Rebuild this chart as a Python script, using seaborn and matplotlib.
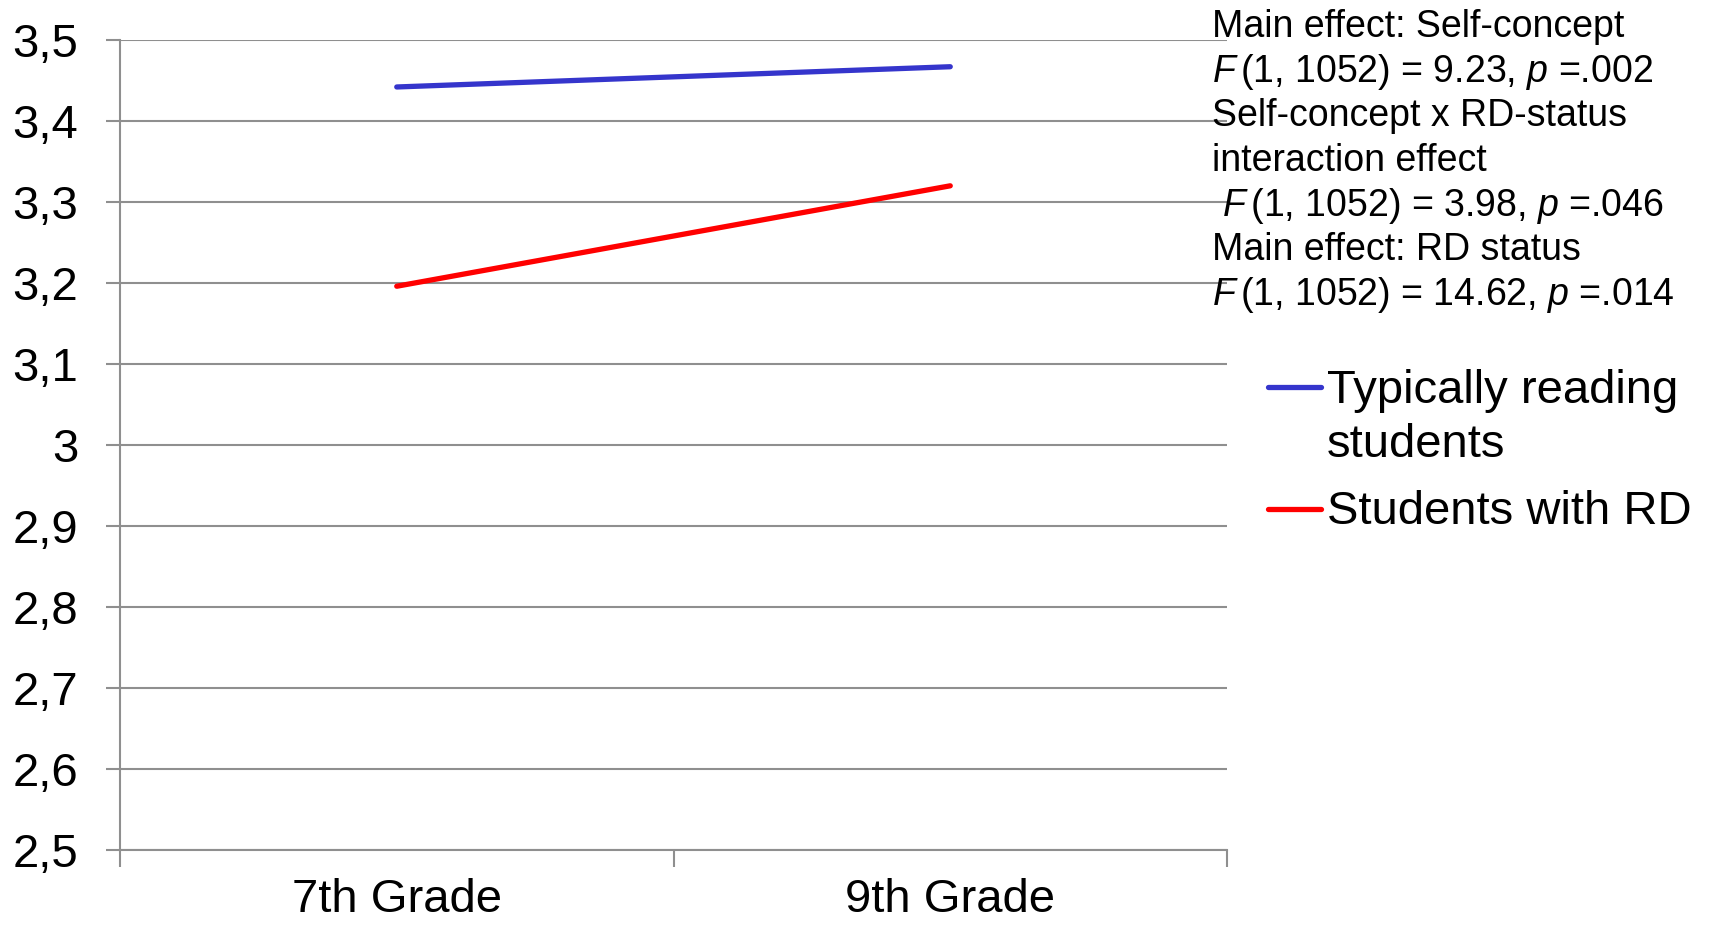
import numpy as np
import pandas as pd
import seaborn as sns
import matplotlib.pyplot as plt
from matplotlib.lines import Line2D

# values
grades = ['7th Grade', '9th Grade']
typical_scores = [3.442, 3.467]
rd_scores = [3.196, 3.320]
group_names = ['Typically reading\nstudents', 'Students with RD']
group_colors = ['#3535CC', '#FF0000']
y_ticks = [2.5, 2.6, 2.7, 2.8, 2.9, 3.0, 3.1, 3.2, 3.3, 3.4, 3.5]
stats_lines = [
    'Main effect: Self-concept',
    r'$\mathit{F}\,$(1, 1052) = 9.23, $\mathit{p}$ =.002',
    'Self-concept x RD-status',
    'interaction effect',
    r' $\mathit{F}\,$(1, 1052) = 3.98, $\mathit{p}$ =.046',
    'Main effect: RD status',
    r'$\mathit{F}\,$(1, 1052) = 14.62, $\mathit{p}$ =.014',
]

df = pd.DataFrame({
    'grade': grades * 2,
    'score': typical_scores + rd_scores,
    'group': [group_names[0]] * 2 + [group_names[1]] * 2,
})

sns.set_theme(style='white')
plt.rcParams['font.family'] = ['Liberation Sans', 'DejaVu Sans']
plt.rcParams['text.color'] = 'black'
plt.rcParams['mathtext.fontset'] = 'custom'
plt.rcParams['mathtext.rm'] = 'Liberation Sans'
plt.rcParams['mathtext.it'] = 'Liberation Sans:italic'

W, H = 1709, 927
grid_gray = '#8F8F8F'
fig = plt.figure(figsize=(W / 100, H / 100), dpi=100)
ax = fig.add_axes([120 / W, 1 - 850 / H, (1227 - 120) / W, (850 - 40) / H])

palette = dict(zip(group_names, group_colors))
sns.lineplot(data=df, x='grade', y='score', hue='group', palette=palette,
             sort=False, legend=False, lw=3.8, ax=ax,
             solid_capstyle='round')

ax.set_xlim(-0.5, 1.5)
ax.set_ylim(2.5, 3.5)
ax.set_yticks(y_ticks)
ax.set_yticklabels([f'{v:g}'.replace('.', ',') for v in y_ticks])
ax.set_xticks([0, 1])
ax.set_xticklabels(grades)
ax.set_xticks([-0.5, 0.5, 1.5], minor=True)
ax.set_xlabel('')
ax.set_ylabel('')

ax.yaxis.grid(True, color=grid_gray, lw=1.5)
ax.xaxis.grid(False)
ax.set_axisbelow(True)
for side in ['top', 'right']:
    ax.spines[side].set_visible(False)
for side in ['left', 'bottom']:
    ax.spines[side].set_color(grid_gray)
    ax.spines[side].set_linewidth(1.5)

ax.tick_params(axis='y', left=True, length=10, width=1.5, color=grid_gray,
               pad=20, labelsize=34, labelcolor='black')
ax.tick_params(axis='x', which='major', bottom=True, length=0, pad=20,
               labelsize=34, labelcolor='black')
ax.tick_params(axis='x', which='minor', bottom=True, length=12, width=1.5,
               color=grid_gray)

# statistics text block
stat_y = [27, 72, 116, 161, 206, 250, 295]
for txt, yy in zip(stats_lines, stat_y):
    fig.text(1212 / W, 1 - yy / H, txt, fontsize=27, va='center', ha='left',
             color='black')

# legend drawn by hand so the first handle sits on the first label line
leg_handle_y = [387, 509]
leg_text_y = [418, 512]
for hy, ty, name, col in zip(leg_handle_y, leg_text_y, group_names, group_colors):
    fig.add_artist(Line2D([1268 / W, 1321 / W], [1 - hy / H, 1 - hy / H],
                          color=col, lw=3.8, solid_capstyle='round',
                          transform=fig.transFigure))
    fig.text(1327 / W, 1 - ty / H, name, fontsize=34, va='center',
             ha='left', linespacing=1.32, color='black')

plt.savefig('out.png', dpi=100)
